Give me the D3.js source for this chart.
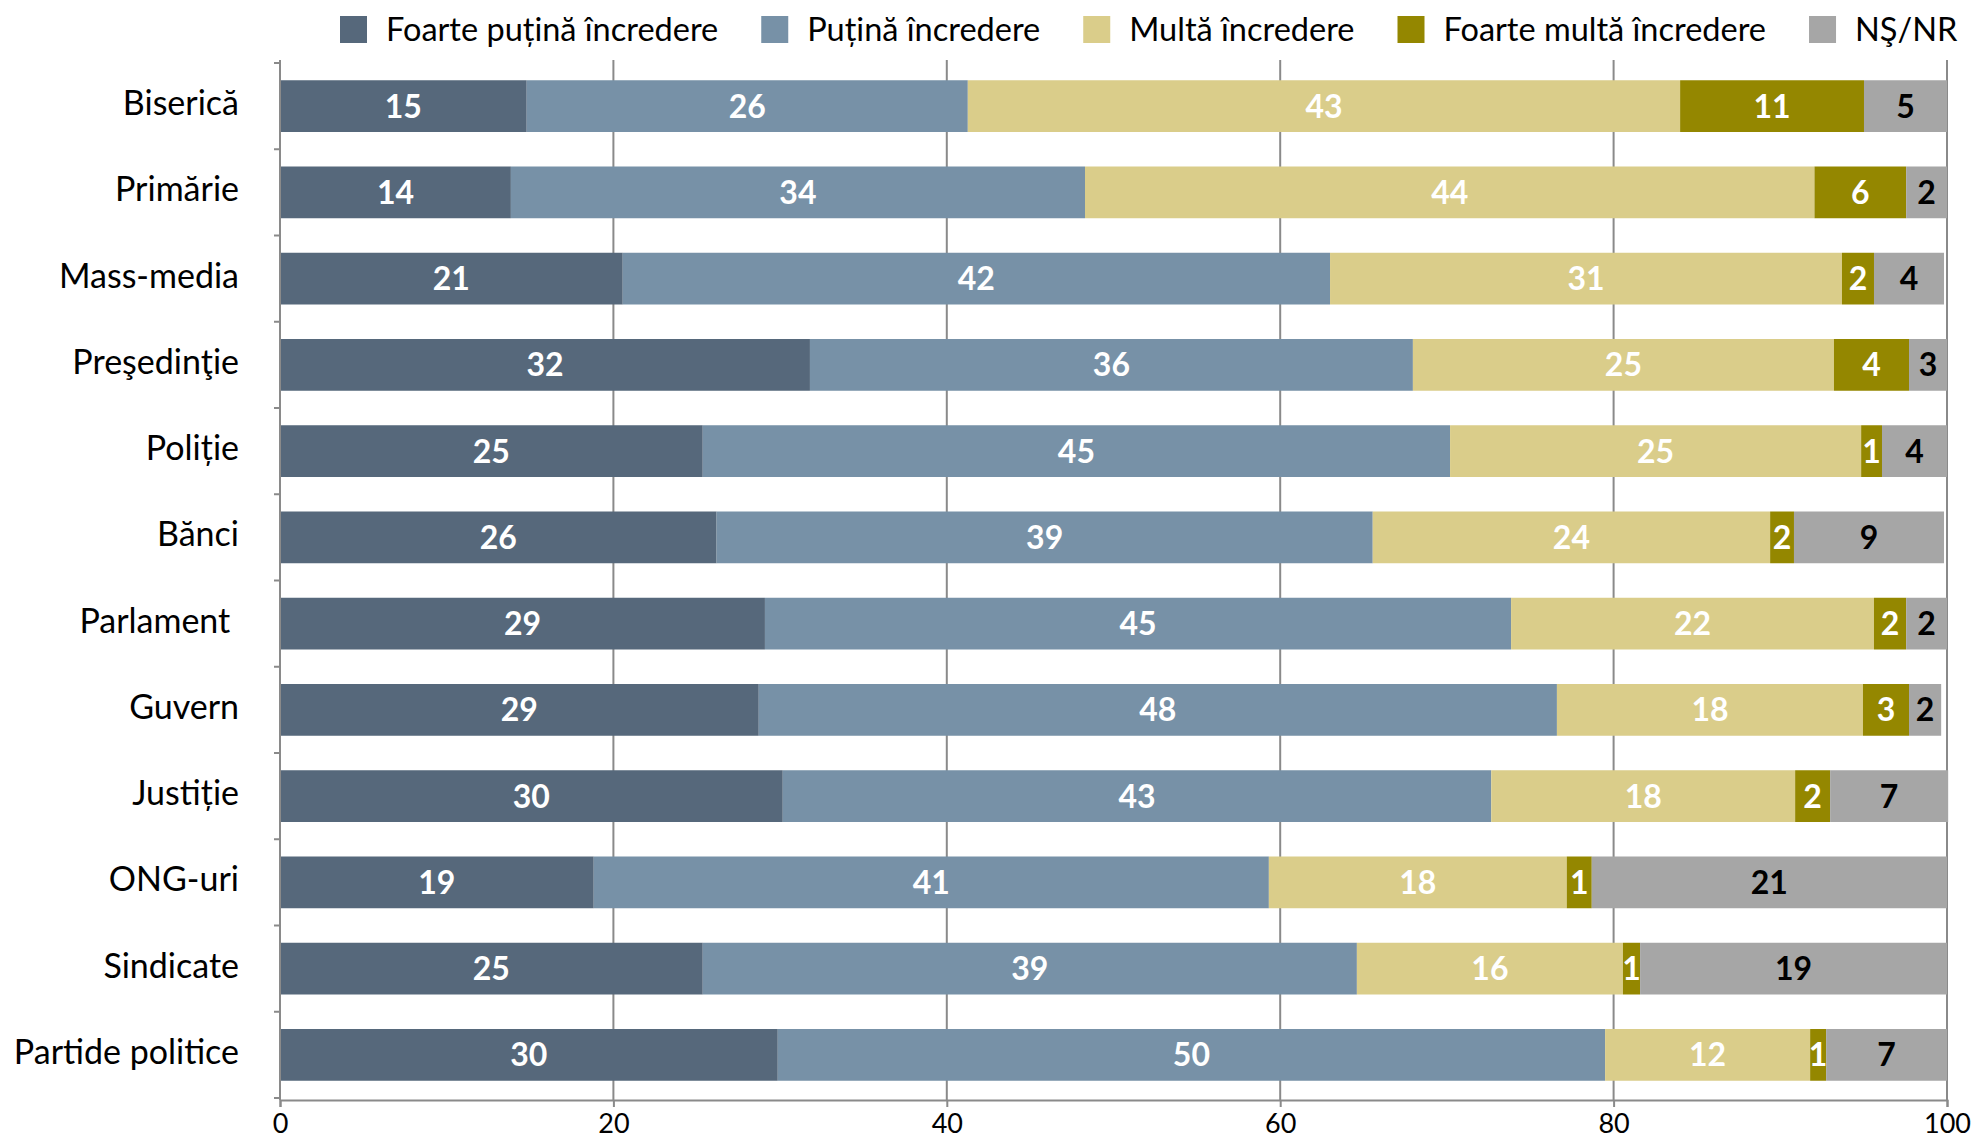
<!DOCTYPE html>
<html>
<head>
<meta charset="utf-8">
<script src="https://cdn.jsdelivr.net/npm/d3@7"></script>
<style>
  body { margin: 0; background: #ffffff; }
  svg { display: block; }
  text { font-family: Lato, "Open Sans", "Noto Sans", sans-serif; }
</style>
</head>
<body>
<svg id="chart" width="1972" height="1140"></svg>
<script>
// ---------- data ----------
const categories = ["Biserică", "Primărie", "Mass-media", "Preşedinţie", "Poliție", "Bănci",
  "Parlament ", "Guvern", "Justiție", "ONG-uri", "Sindicate", "Partide politice"];

const seriesNames = ["Foarte puțină încredere", "Puțină încredere", "Multă încredere",
  "Foarte multă încredere", "NŞ/NR"];

// bar lengths (%), as drawn
const foartePutina = [14.8, 13.85, 20.56, 31.79, 25.36, 26.19, 29.09, 28.72, 30.16, 18.82, 25.36, 29.86];
const putina       = [26.46, 34.44, 42.43, 36.17, 44.83, 39.36, 44.76, 47.88, 42.5, 40.5, 39.24, 49.63];
const multa        = [42.73, 43.76, 30.71, 25.26, 24.66, 23.84, 21.77, 18.36, 18.23, 17.87, 15.96, 12.3];
const foarteMulta  = [11.03, 5.5, 1.92, 4.5, 1.25, 1.43, 1.93, 2.76, 2.1, 1.5, 1.03, 0.96];
const nsnr         = [4.98, 2.45, 4.2, 2.28, 3.9, 9.0, 2.45, 1.93, 7.08, 21.31, 18.41, 7.25];

// printed data labels
const foartePutinaLabels = [15, 14, 21, 32, 25, 26, 29, 29, 30, 19, 25, 30];
const putinaLabels       = [26, 34, 42, 36, 45, 39, 45, 48, 43, 41, 39, 50];
const multaLabels        = [43, 44, 31, 25, 25, 24, 22, 18, 18, 18, 16, 12];
const foarteMultaLabels  = [11, 6, 2, 4, 1, 2, 2, 3, 2, 1, 1, 1];
const nsnrLabels         = [5, 2, 4, 3, 4, 9, 2, 2, 7, 21, 19, 7];

const xTicks = [0, 20, 40, 60, 80, 100];

// ---------- styles ----------
const seriesColors = ["#56687b", "#7791a7", "#dacd8a", "#948700", "#a6a6a6"];
const labelColors  = ["#ffffff", "#ffffff", "#ffffff", "#ffffff", "#000000"];
const gridColor = "#8a8a8a";

const seriesValues = [foartePutina, putina, multa, foarteMulta, nsnr];
const seriesLabels = [foartePutinaLabels, putinaLabels, multaLabels, foarteMultaLabels, nsnrLabels];

// build table for stacking
const table = categories.map((c, i) => {
  const row = { cat: c };
  seriesNames.forEach((s, k) => { row[s] = seriesValues[k][i]; row["lbl_" + k] = seriesLabels[k][i]; });
  return row;
});

const svg = d3.select("#chart");
const plot = { left: 280, right: 1947, top: 60, bottom: 1100 };

const x = d3.scaleLinear().domain([0, 100]).range([plot.left, plot.right]);
const y = d3.scaleBand().domain(categories).range([63, 1098]).paddingInner(0.4).paddingOuter(0.2);

const stack = d3.stack().keys(seriesNames);
const stacked = stack(table);

// gridlines
svg.append("g").selectAll("line").data(xTicks.filter(t => t > 0)).join("line")
  .attr("x1", d => x(d)).attr("x2", d => x(d))
  .attr("y1", plot.top).attr("y2", plot.bottom)
  .attr("stroke", gridColor).attr("stroke-width", 2);

// bars
const layers = svg.append("g").selectAll("g").data(stacked).join("g")
  .attr("fill", (d, i) => seriesColors[i]);
layers.selectAll("rect").data(d => d).join("rect")
  .attr("x", d => x(d[0]))
  .attr("width", d => x(d[1]) - x(d[0]))
  .attr("y", d => y(d.data.cat))
  .attr("height", y.bandwidth());

// value labels
svg.append("g").selectAll("g").data(stacked).join("g")
  .attr("fill", (d, i) => labelColors[i])
  .selectAll("text").data(d => d.map(p => ({ p, k: d.index }))).join("text")
  .attr("x", d => (x(d.p[0]) + x(d.p[1])) / 2)
  .attr("y", d => y(d.p.data.cat) + y.bandwidth() / 2)
  .attr("dy", "0.36em")
  .attr("text-anchor", "middle")
  .attr("font-weight", 700)
  .attr("font-size", 32)
  .text(d => d.p.data["lbl_" + d.k]);

// left axis
svg.append("line")
  .attr("x1", plot.left).attr("x2", plot.left)
  .attr("y1", plot.top).attr("y2", plot.bottom)
  .attr("stroke", gridColor).attr("stroke-width", 2);
const bounds = d3.range(categories.length + 1).map(i => y.range()[0] + i * y.step());
svg.append("g").selectAll("line").data(bounds).join("line")
  .attr("x1", plot.left - 6).attr("x2", plot.left)
  .attr("y1", d => d).attr("y2", d => d)
  .attr("stroke", gridColor).attr("stroke-width", 2);

// category labels
svg.append("g").selectAll("text").data(categories).join("text")
  .attr("x", 239)
  .attr("y", d => y(d) + y.bandwidth() / 2 - 3)
  .attr("dy", "0.35em")
  .attr("text-anchor", "end")
  .attr("font-size", 34)
  .attr("fill", "#000")
  .attr("xml:space", "preserve")
  .style("white-space", "pre")
  .text(d => d);

// bottom axis
const xAxis = d3.axisBottom(x).tickValues(xTicks).tickSize(7).tickPadding(7).tickFormat(d3.format("d"));
const gx = svg.append("g").attr("transform", `translate(0,${plot.bottom})`).call(xAxis);
gx.select(".domain").attr("stroke", gridColor).attr("stroke-width", 2);
gx.selectAll(".tick line").attr("stroke", gridColor).attr("stroke-width", 2);
gx.selectAll(".tick text").attr("font-size", 27).attr("fill", "#000")
  .style("font-family", "Lato, 'Open Sans', sans-serif");

// legend
const legend = svg.append("g");
let lx = 340;
seriesNames.forEach((name, i) => {
  const g = legend.append("g").attr("transform", `translate(${lx},0)`);
  g.append("rect").attr("x", 0).attr("y", 16).attr("width", 27).attr("height", 27)
    .attr("fill", seriesColors[i]);
  const t = g.append("text").attr("x", 46).attr("y", 29.5).attr("dy", "0.35em")
    .attr("font-size", 32.5).attr("fill", "#000").text(name);
  lx += 46 + t.node().getComputedTextLength() + 43;
});
</script>
</body>
</html>
